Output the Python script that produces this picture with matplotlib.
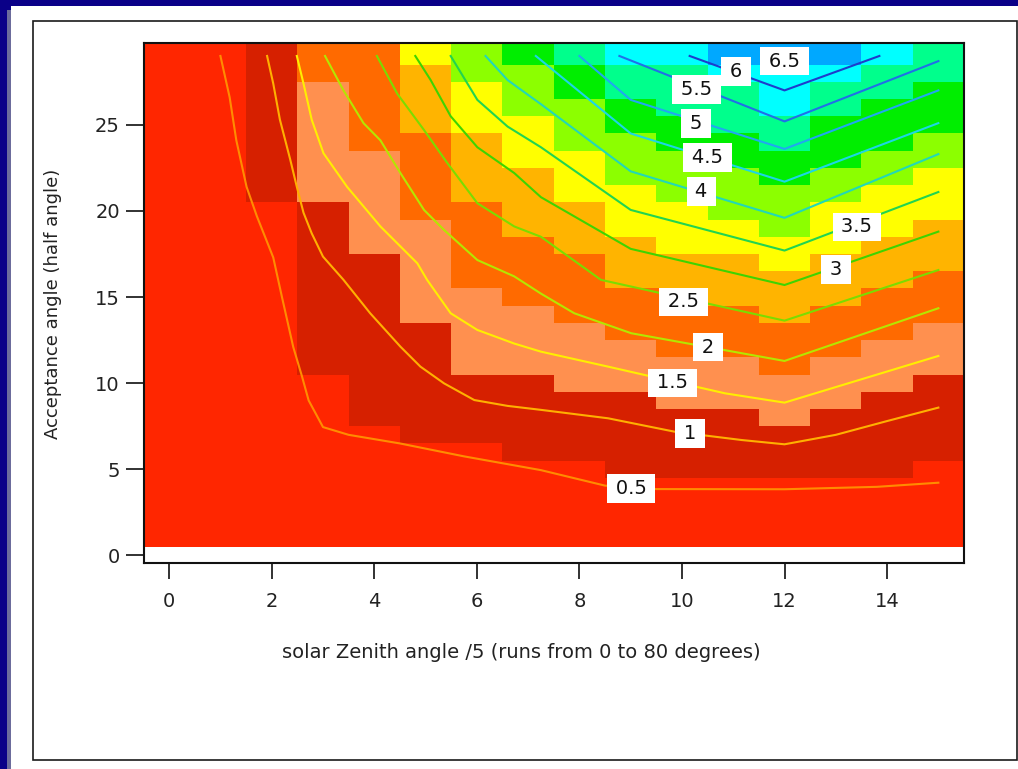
import numpy as np
import matplotlib.pyplot as plt
from matplotlib.colors import ListedColormap
from matplotlib.patches import Rectangle

# =========================
# DATA
# =========================
# colour classes of the image cells, lowest to highest
class_keys = "RDSOAYLGMCB"
class_colors = ["#ff2600", "#d62000", "#ff904f", "#ff6a00", "#ffb400", "#ffff00",
                "#8cff00", "#00ee00", "#00ff8c", "#00ffff", "#00a8ff"]

# one string per acceptance-angle row (29 at the top), one letter per zenith step 0..15
cell_rows = [
    "RRDOOYLGMCCBBBCM",
    "RRDOOALLGMMCCCMM",
    "RRDSOAYLGMMMCMMG",
    "RRDSOAYLLGMMCMGG",
    "RRDSOAYYLGGMMGGG",
    "RRDSOOAYLLGGMGGL",
    "RRDSSOAYYLLGGGLL",
    "RRDSSOAAYLLLGLLY",
    "RRDSSOAAYYLLLLYY",
    "RRRDSOOAAYYLLYYY",
    "RRRDSSOAAYYYLYYA",
    "RRRDSSOOAAYYYYAA",
    "RRRDDSOOOAAAYAAA",
    "RRRDDSOOOAAAAAAO",
    "RRRDDSSOOOOAAAOO",
    "RRRDDSSSOOOOAOOO",
    "RRRDDDSSSOOOOOOS",
    "RRRDDDSSSSOOOOSS",
    "RRRDDDSSSSSSOSSS",
    "RRRRDDDDSSSSSSSD",
    "RRRRDDDDDDSSSSDD",
    "RRRRDDDDDDDDSDDD",
    "RRRRRDDDDDDDDDDD",
    "RRRRRRRDDDDDDDDD",
    "RRRRRRRRRDDDDDDR",
    "RRRRRRRRRRRRRRRR",
    "RRRRRRRRRRRRRRRR",
    "RRRRRRRRRRRRRRRR",
    "RRRRRRRRRRRRRRRR",
]

# contour levels and their traced paths (zenith step, acceptance angle)
levels = [0.5, 1, 1.5, 2, 2.5, 3, 3.5, 4, 4.5, 5, 5.5, 6, 6.5]
level_x = [
    [1.0, 1.18, 1.31, 1.51, 1.71, 2.03, 2.2, 2.42, 2.59, 2.72, 3.0, 3.5, 4.5, 5.75, 7.25, 8.5, 9.5, 12.0, 13.8, 15.0],
    [1.91, 2.03, 2.16, 2.36, 2.49, 2.62, 2.78, 3.0, 3.4, 3.92, 4.51, 4.9, 5.36, 5.95, 6.6, 7.25, 8.56, 9.86, 11.16, 12.0, 13.0, 14.0, 15.0],
    [2.49, 2.62, 2.78, 3.01, 3.47, 4.12, 4.84, 5.03, 5.49, 6.01, 6.73, 7.25, 8.56, 10.84, 12.0, 15.0],
    [3.04, 3.4, 3.79, 4.12, 4.51, 4.97, 5.36, 6.01, 6.73, 7.25, 7.9, 9.01, 12.0, 15.0],
    [4.05, 4.45, 4.97, 5.42, 6.01, 6.73, 7.25, 8.42, 12.0, 15.0],
    [4.8, 5.1, 5.49, 6.01, 6.73, 7.25, 9.0, 12.0, 15.0],
    [5.49, 6.01, 6.6, 7.25, 9.0, 12.0, 15.0],
    [6.17, 6.6, 7.25, 9.0, 12.0, 15.0],
    [7.15, 9.0, 12.0, 15.0],
    [8.0, 9.0, 12.0, 15.0],
    [8.78, 12.0, 15.0],
    [10.15, 12.0, 13.85],
    [11.55, 12.0, 12.45],
]
level_y = [
    [29.0, 26.6, 24.1, 21.4, 19.7, 17.3, 15.0, 12.1, 10.4, 9.0, 7.45, 7.0, 6.5, 5.75, 4.95, 4.05, 3.85, 3.84, 3.98, 4.22],
    [29.0, 27.4, 25.3, 23.0, 21.4, 19.9, 18.7, 17.35, 16.0, 14.06, 12.12, 10.96, 9.99, 9.02, 8.68, 8.45, 7.96, 7.18, 6.7, 6.45, 7.0, 7.8, 8.58],
    [29.0, 27.4, 25.3, 23.35, 21.4, 19.1, 16.96, 16.0, 14.06, 13.09, 12.3, 11.83, 10.96, 9.41, 8.87, 11.58],
    [29.0, 27.0, 25.1, 24.1, 22.2, 20.06, 18.9, 17.15, 16.2, 15.2, 14.06, 12.9, 11.29, 14.35],
    [29.0, 26.8, 24.7, 22.8, 20.45, 19.1, 18.5, 16.0, 13.63, 16.57],
    [29.0, 27.6, 25.5, 23.7, 22.2, 20.8, 17.8, 15.7, 18.8],
    [29.0, 26.45, 24.9, 23.7, 20.06, 17.7, 21.1],
    [29.0, 27.6, 26.2, 22.3, 19.6, 23.3],
    [29.0, 24.5, 21.7, 25.1],
    [29.0, 26.45, 23.6, 27.0],
    [29.0, 25.2, 28.7],
    [29.0, 27.0, 29.0],
    [29.0, 28.55, 29.0],
]
level_colors = ["#ff8c00", "#ffb000", "#ffee00", "#b4e600", "#7add00", "#3ed400", "#22d450",
                "#22d8b8", "#1cd6e6", "#20a8f0", "#2070e8", "#1e3ccc", "#1010a8"]

# where each level's value is written
label_x = [9.01, 10.16, 9.82, 10.5, 10.03, 13.0, 13.41, 10.38, 10.5, 10.27, 10.28, 11.05, 12.0]
label_y = [3.89, 7.08, 10.01, 12.1, 14.72, 16.6, 19.07, 21.13, 23.1, 25.08, 27.05, 28.1, 28.7]

x_ticks = [0, 2, 4, 6, 8, 10, 12, 14]
y_ticks = [0, 5, 10, 15, 20, 25]

# =========================
# FIGURE + FRAME
# =========================
W, H = 1018, 769
fig = plt.figure(figsize=(W / 100, H / 100), dpi=100)
fig.patch.set_facecolor("#0a0088")


def px_rect(x0, y0, x1, y1, **kw):
    # rectangle given in pixel coords from the top-left corner
    return Rectangle((x0 / W, 1 - y1 / H), (x1 - x0) / W, (y1 - y0) / H,
                     transform=fig.transFigure, **kw)


fig.add_artist(px_rect(7, 10, 11, H, facecolor="#6c6c9c", edgecolor="none", zorder=-10))
fig.add_artist(px_rect(11, 6, W, H, facecolor="white", edgecolor="none", zorder=-9))
fig.add_artist(px_rect(33, 21, 1017, 760, fill=False, edgecolor="#1a1a1a", lw=1.2, zorder=-8))

ax = fig.add_axes([143.5 / W, 1 - 563.3 / H, (964 - 143.5) / W, (563.3 - 42.7) / H])
ax.set_facecolor("white")

# =========================
# IMAGE CELLS
# =========================
y_lo, y_hi = -0.46, 29.77
grid = np.array([[class_keys.index(ch) for ch in row] for row in cell_rows[::-1]])
x_edges = np.arange(grid.shape[1] + 1) - 0.5
y_edges = np.append(np.arange(grid.shape[0]) + 0.5, y_hi)
ax.pcolormesh(x_edges, y_edges, grid, cmap=ListedColormap(class_colors),
              vmin=-0.5, vmax=len(class_colors) - 0.5, shading="flat",
              edgecolors="none", antialiased=False)

# =========================
# CONTOURS + LABELS
# =========================
for xs, ys, col in zip(level_x, level_y, level_colors):
    ax.plot(xs, ys, color=col, lw=1.5, solid_joinstyle="round", zorder=3)

for lev, lx, ly in zip(levels, label_x, label_y):
    ax.text(lx, ly, f"\u2009{lev:g}\u2009", ha="center", va="center", fontsize=14,
            color="#111111", zorder=4,
            bbox=dict(boxstyle="square,pad=0.25", facecolor="white", edgecolor="none"))

# =========================
# AXES
# =========================
ax.set_xlim(-0.5, 15.5)
ax.set_ylim(y_lo, y_hi)
ax.set_xticks(x_ticks)
ax.set_yticks(y_ticks)
ax.tick_params(axis="x", direction="out", length=11.5, width=1.3, pad=9, labelsize=14, colors="#222222")
ax.tick_params(axis="y", direction="out", length=13, width=1.3, pad=4, labelsize=14, colors="#222222")
for sp in ax.spines.values():
    sp.set_linewidth(1.5)
    sp.set_color("#111111")

ax.set_xlabel("solar Zenith angle /5 (runs from 0 to 80 degrees)", fontsize=14, color="#222222")
ax.xaxis.label.set_va("baseline")
ax.xaxis.set_label_coords(0.461, -0.182)
ax.set_ylabel("Acceptance angle (half angle)", fontsize=13, color="#222222")
ax.yaxis.set_label_coords(-0.099, 0.498)

fig.savefig("out.png", dpi=100, facecolor=fig.get_facecolor())
